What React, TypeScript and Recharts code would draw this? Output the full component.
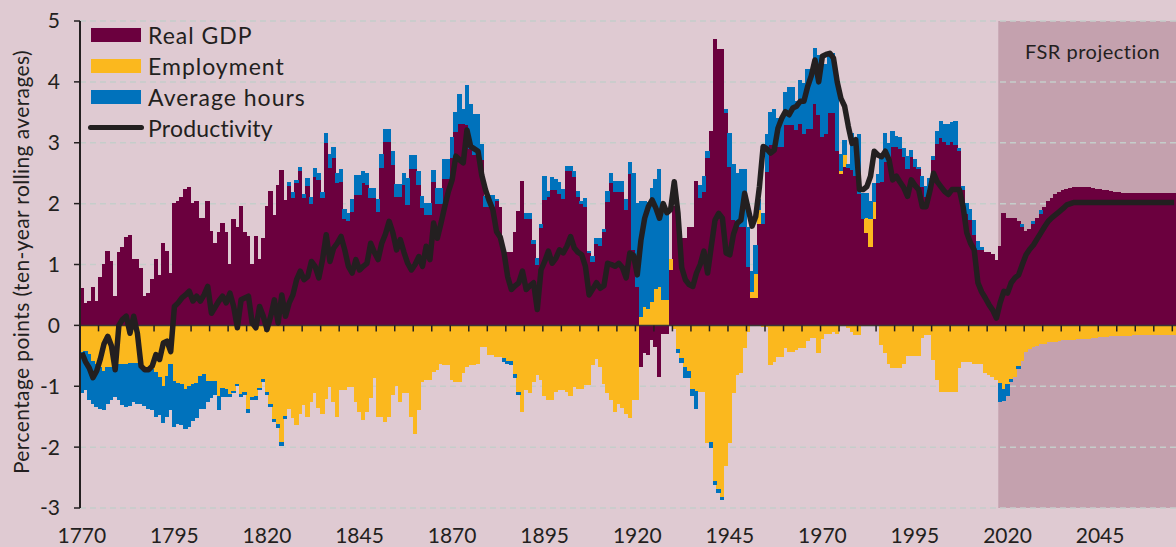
import {
  ComposedChart,
  Bar,
  Line,
  XAxis,
  YAxis,
  CartesianGrid,
  ReferenceArea,
  ReferenceLine,
} from "recharts";

const FONT = "Lato, 'Open Sans', sans-serif";
const INK = "#231f20";
const GDP_COLOR = "#6b003e";
const EMP_COLOR = "#fbb81e";
const HRS_COLOR = "#0072bc";
const BG = "#dfcad2";
const PROJ_BG = "#c4a1ae";

const FIRST_YEAR = 1770;
const PROJECTION_START = 2018;
const LABEL_EVERY = 25;

// real GDP contribution, 1770..2065
const gdp = [
  0.60, 0.36, 0.39, 0.63, 0.39, 0.79, 1.00, 1.22, 1.05, 0.47,
  1.19, 1.28, 1.45, 1.47, 1.09, 1.09, 0.94, 0.47, 0.53, 0.75,
  1.08, 0.82, 1.34, 1.22, 0.86, 2.00, 2.04, 2.10, 2.24, 2.27,
  2.00, 2.04, 1.76, 1.76, 2.04, 1.54, 1.35, 1.52, 1.68, 1.52,
  1.00, 1.74, 1.60, 1.96, 1.52, 1.46, 1.00, 1.46, 1.08, 1.43,
  1.95, 2.20, 1.80, 2.30, 2.55, 2.05, 2.30, 2.10, 2.35, 2.55,
  2.10, 2.30, 2.00, 2.45, 2.40, 2.10, 3.00, 2.60, 2.75, 2.35,
  2.36, 1.75, 1.72, 1.87, 2.15, 2.15, 2.34, 2.31, 2.10, 2.10,
  1.87, 2.60, 3.02, 3.02, 2.64, 2.12, 2.12, 2.31, 1.98, 2.58,
  2.58, 2.31, 1.93, 1.82, 1.82, 2.36, 2.00, 2.00, 2.42, 2.42,
  2.75, 3.19, 3.32, 3.32, 3.30, 2.90, 2.80, 2.80, 2.72, 1.95,
  1.95, 1.95, 2.05, 1.93, 1.19, 1.19, 1.19, 1.52, 1.87, 2.36,
  1.76, 1.76, 1.35, 1.00, 1.60, 2.06, 2.12, 2.23, 2.23, 2.17,
  2.09, 2.55, 2.55, 2.44, 2.12, 2.01, 1.96, 1.20, 1.05, 1.35,
  1.32, 1.54, 2.04, 2.34, 2.20, 2.20, 2.20, 1.90, 2.50, 1.24,
  0.64, -0.67, -0.45, -0.48, -0.24, -0.35, -0.84, -0.13, -0.13, 0.91,
  1.95, 1.90, 1.43, 1.43, 1.60, 1.60, 2.36, 2.10, 2.20, 2.75,
  3.19, 4.69, 4.53, 4.53, 3.49, 2.61, 1.74, 1.63, 1.63, 1.63,
  0.97, 0.45, 0.45, 1.68, 1.68, 2.53, 2.97, 2.97, 2.94, 2.94,
  3.30, 3.30, 3.30, 3.21, 3.32, 3.16, 3.24, 3.24, 3.65, 3.46,
  3.10, 3.16, 3.49, 3.49, 2.88, 2.50, 2.61, 2.60, 2.56, 2.47,
  2.17, 1.76, 1.52, 1.30, 1.76, 2.34, 2.36, 2.70, 2.72, 2.94,
  2.94, 2.91, 2.77, 2.58, 2.77, 2.61, 2.58, 2.28, 2.12, 2.17,
  2.72, 2.99, 3.08, 3.02, 2.97, 3.02, 2.97, 2.88, 2.23, 1.84,
  1.74, 1.50, 1.24, 1.24, 1.20, 1.20, 1.16, 1.07, 1.30, 1.84,
  1.76, 1.75, 1.76, 1.71, 1.63, 1.54, 1.57, 1.68, 1.76, 1.84,
  1.93, 2.04, 2.09, 2.15, 2.18, 2.22, 2.24, 2.25, 2.27, 2.27,
  2.26, 2.27, 2.26, 2.25, 2.24, 2.23, 2.22, 2.21, 2.20, 2.19,
  2.18, 2.17, 2.17, 2.17, 2.17, 2.17, 2.17, 2.17, 2.17, 2.17,
  2.17, 2.17, 2.17, 2.17, 2.17, 2.17,
];

// employment contribution
const emp = [
  -0.45, -0.43, -0.48, -0.59, -0.64, -0.70, -0.76, -0.70, -0.70, -0.67,
  -0.64, -0.64, -0.64, -0.62, -0.62, -0.62, -0.70, -0.73, -0.73, -0.73,
  -0.78, -0.86, -1.00, -0.84, -0.64, -0.92, -0.95, -0.97, -1.06, -1.00,
  -0.97, -0.95, -0.84, -0.81, -0.92, -0.92, -0.92, -1.17, -1.03, -1.06,
  -1.14, -1.08, -0.97, -1.14, -1.11, -1.39, -1.19, -1.17, -1.03, -0.89,
  -1.11, -1.30, -1.55, -1.63, -1.93, -1.50, -1.36, -1.52, -1.63, -1.45,
  -1.30, -1.50, -1.25, -1.10, -1.35, -1.45, -1.20, -1.00, -1.25, -1.50,
  -1.06, -1.06, -1.00, -1.00, -1.25, -1.41, -1.55, -1.41, -1.19, -0.86,
  -1.50, -1.50, -1.58, -1.50, -1.14, -0.98, -1.25, -1.11, -1.11, -1.50,
  -1.77, -1.38, -0.92, -0.89, -0.89, -0.76, -0.73, -0.62, -0.64, -0.64,
  -0.89, -0.92, -0.92, -0.78, -0.67, -0.64, -0.64, -0.62, -0.34, -0.34,
  -0.48, -0.48, -0.51, -0.51, -0.54, -0.59, -0.59, -0.81, -1.11, -1.41,
  -1.06, -1.11, -0.92, -0.81, -0.89, -1.16, -1.22, -1.22, -1.08, -1.06,
  -1.06, -1.08, -1.16, -1.00, -1.03, -1.03, -0.97, -0.97, -0.65, -0.54,
  -0.67, -0.95, -1.10, -1.22, -1.41, -1.28, -1.35, -1.44, -1.52, -1.22,
  -1.22, 0.15, 0.31, 0.28, 0.39, 0.60, 0.64, 0.42, 0.42, 0.17,
  -0.05, -0.40, -0.55, -0.70, -0.75, -1.05, -1.08, -1.08, -1.08, -1.93,
  -1.93, -2.57, -2.70, -2.83, -2.30, -1.93, -1.11, -0.81, -0.78, -0.37,
  -0.10, 0.11, 0.41, 0.22, -0.02, -0.02, -0.65, -0.60, -0.51, -0.51,
  -0.37, -0.43, -0.43, -0.40, -0.37, -0.37, -0.25, -0.20, -0.20, -0.45,
  -0.21, -0.13, -0.13, -0.10, -0.13, 0.05, 0.20, -0.04, -0.10, -0.15,
  -0.15, 0.00, 0.25, 0.46, 0.27, 0.00, -0.32, -0.45, -0.62, -0.70,
  -0.70, -0.70, -0.62, -0.50, -0.50, -0.50, -0.50, -0.20, -0.15, -0.15,
  -0.56, -0.89, -1.08, -1.08, -1.08, -1.08, -1.08, -0.70, -0.60, -0.60,
  -0.60, -0.62, -0.62, -0.62, -0.78, -0.80, -0.84, -0.89, -0.95, -1.05,
  -0.97, -0.89, -0.84, -0.68, -0.57, -0.43, -0.38, -0.35, -0.33, -0.30,
  -0.29, -0.26, -0.26, -0.26, -0.25, -0.24, -0.24, -0.23, -0.23, -0.22,
  -0.21, -0.21, -0.21, -0.20, -0.20, -0.19, -0.18, -0.18, -0.17, -0.17,
  -0.16, -0.16, -0.16, -0.16, -0.15, -0.15, -0.15, -0.15, -0.15, -0.15,
  -0.15, -0.15, -0.15, -0.15, -0.15, -0.15,
];

// average hours contribution
const hrs = [
  -0.66, -0.63, -0.74, -0.69, -0.69, -0.66, -0.63, -0.58, -0.52, -0.50,
  -0.58, -0.66, -0.69, -0.69, -0.63, -0.66, -0.58, -0.58, -0.63, -0.66,
  -0.71, -0.60, -0.60, -0.66, -0.75, -0.74, -0.66, -0.66, -0.63, -0.66,
  -0.60, -0.57, -0.52, -0.55, -0.33, -0.27, -0.22, -0.22, -0.14, -0.11,
  -0.03, -0.03, -0.02, -0.03, -0.03, -0.04, -0.03, -0.04, -0.03, -0.03,
  -0.03, -0.03, -0.03, -0.04, -0.04, -0.03, 0.05, 0.08, 0.03, 0.05,
  0.05, 0.12, 0.10, 0.12, 0.10, 0.08, 0.15, 0.20, 0.18, 0.15,
  0.20, 0.15, 0.12, 0.19, 0.32, 0.32, 0.19, 0.19, 0.15, 0.15,
  0.19, 0.20, 0.20, 0.20, 0.22, 0.19, 0.19, 0.19, 0.44, 0.21,
  0.21, 0.22, 0.19, 0.19, 0.19, 0.19, 0.25, 0.25, 0.30, 0.30,
  0.33, 0.30, 0.47, 0.23, 0.64, 0.73, 0.66, 0.66, 0.25, 0.17,
  0.19, 0.19, 0.01, 0.00, -0.05, -0.03, -0.05, -0.05, -0.03, 0.00,
  0.08, 0.08, 0.05, 0.10, 0.05, 0.38, 0.08, 0.20, 0.16, 0.17,
  0.14, 0.06, 0.06, 0.09, 0.08, 0.03, 0.13, 0.02, 0.08, 0.08,
  0.11, 0.03, 0.16, 0.16, 0.16, 0.16, 0.16, 0.16, 0.17, 1.26,
  1.36, 1.89, 1.73, 1.74, 1.86, 1.80, 1.92, 1.42, 1.50, 0.00,
  0.00, -0.05, -0.06, -0.15, -0.10, -0.10, -0.28, 0.20, 0.25, 0.10,
  -0.08, -0.05, -0.05, -0.03, 0.05, 0.55, 0.90, 0.87, 0.93, 0.93,
  0.63, 0.33, 0.46, 0.16, 0.16, 0.60, 0.52, 0.57, 0.46, 0.46,
  0.52, 0.60, 0.60, 0.47, 0.71, 0.82, 0.96, 0.96, 0.90, 0.98,
  1.20, 1.12, 0.98, 0.98, 1.18, 0.25, 0.22, 0.05, 0.60, 0.60,
  0.96, 0.41, 0.40, 0.28, 0.30, 0.14, 0.44, 0.46, 0.27, 0.25,
  0.16, 0.17, 0.14, 0.20, 0.11, 0.11, 0.02, 0.17, 0.16, 0.25,
  0.06, 0.20, 0.27, 0.28, 0.33, 0.31, 0.38, 0.02, 0.05, 0.16,
  0.16, 0.23, 0.14, 0.04, 0.00, 0.00, 0.00, 0.00, -0.30, -0.19,
  -0.19, -0.03, 0.00, -0.03, 0.03, 0.00, 0.00, 0.03, 0.00, 0.05,
  0, 0, 0, 0, 0, 0, 0, 0, 0, 0,
  0, 0, 0, 0, 0, 0, 0, 0, 0, 0,
  0, 0, 0, 0, 0, 0, 0, 0, 0, 0,
  0, 0, 0, 0, 0, 0,
];

// productivity, ten-year rolling average
const prod = [
  -0.45, -0.60, -0.70, -0.86, -0.75, -0.55, -0.30, -0.18, -0.34, -0.73,
  0.00, 0.10, 0.15, -0.13, 0.15, -0.13, -0.67, -0.73, -0.73, -0.67,
  -0.48, -0.56, -0.29, -0.26, -0.43, 0.31, 0.37, 0.45, 0.50, 0.56,
  0.40, 0.48, 0.40, 0.50, 0.64, 0.20, 0.30, 0.40, 0.48, 0.37,
  0.53, 0.31, -0.04, 0.42, 0.45, 0.48, 0.04, -0.04, 0.31, 0.15,
  -0.07, 0.15, 0.42, 0.04, 0.50, 0.15, 0.37, 0.50, 0.75, 0.89,
  0.75, 0.80, 1.05, 0.97, 0.78, 1.08, 1.49, 1.05, 1.27, 1.35,
  1.46, 1.24, 0.97, 0.86, 1.08, 0.91, 0.97, 1.02, 1.35, 1.20,
  1.08, 1.35, 1.50, 1.71, 1.52, 1.24, 1.41, 1.20, 1.02, 0.91,
  1.00, 1.13, 0.97, 1.30, 1.08, 1.68, 1.43, 1.68, 1.95, 2.20,
  2.39, 2.78, 2.72, 2.67, 3.21, 2.94, 2.90, 2.86, 2.47, 2.23,
  2.05, 1.90, 1.54, 1.45, 1.20, 0.80, 0.59, 0.65, 0.70, 0.89,
  0.59, 0.65, 0.70, 0.26, 0.91, 1.05, 1.22, 1.02, 1.10, 1.24,
  1.19, 1.30, 1.46, 1.27, 1.20, 1.16, 0.97, 0.50, 0.60, 0.70,
  0.61, 0.65, 1.02, 1.00, 0.97, 1.02, 0.95, 0.78, 1.19, 1.15,
  0.83, 1.40, 1.76, 1.95, 2.06, 1.93, 1.76, 2.00, 1.85, 1.90,
  2.36, 1.84, 0.95, 0.75, 0.67, 0.64, 0.86, 1.00, 1.22, 0.86,
  1.30, 1.73, 1.84, 1.76, 1.19, 1.16, 1.50, 1.68, 1.73, 2.17,
  1.90, 1.63, 1.79, 2.28, 2.94, 2.90, 2.83, 2.88, 3.24, 3.40,
  3.51, 3.46, 3.57, 3.60, 3.68, 3.68, 3.92, 4.10, 4.36, 4.00,
  4.42, 4.45, 4.47, 4.39, 4.00, 3.73, 3.60, 3.27, 2.99, 3.05,
  2.23, 2.23, 2.28, 2.45, 2.86, 2.80, 2.77, 2.86, 2.72, 2.39,
  2.45, 2.35, 2.26, 2.12, 2.39, 2.30, 2.23, 1.95, 1.95, 2.20,
  2.50, 2.36, 2.28, 2.20, 2.15, 2.23, 2.23, 2.23, 1.95, 1.52,
  1.35, 1.24, 0.70, 0.55, 0.45, 0.34, 0.25, 0.12, 0.37, 0.56,
  0.53, 0.70, 0.78, 0.83, 1.00, 1.16, 1.25, 1.32, 1.42, 1.52,
  1.62, 1.71, 1.77, 1.82, 1.87, 1.92, 1.98, 2.00, 2.02, 2.02,
  2.02, 2.02, 2.02, 2.02, 2.02, 2.02, 2.02, 2.02, 2.02, 2.02,
  2.02, 2.02, 2.02, 2.02, 2.02, 2.02, 2.02, 2.02, 2.02, 2.02,
  2.02, 2.02, 2.02, 2.02, 2.02, 2.02,
];

const yTicks = [-3, -2, -1, 0, 1, 2, 3, 4, 5];

const years = gdp.map((_, i) => FIRST_YEAR + i);
const data = years.map((year, i) => ({
  year,
  gdp: gdp[i],
  emp: emp[i],
  hrs: hrs[i],
  prod: prod[i],
}));

const W = 1176;
const H = 547;
const TOP = 21;
const X_AXIS_H = 39;
const Y_AXIS_W = 80;
const PLOT_H = H - TOP - X_AXIS_H;
const ZERO_Y = TOP + (PLOT_H * 5) / 8;
const HALF_BAND = (W - Y_AXIS_W) / years.length / 2;

function YearTick(props: any) {
  const { x, y, payload } = props;
  const yr = Number(payload.value);
  return (
    <g>
      <line
        x1={x - HALF_BAND}
        x2={x - HALF_BAND}
        y1={ZERO_Y}
        y2={ZERO_Y + 6}
        stroke={INK}
        strokeWidth={1.5}
      />
      {(yr - FIRST_YEAR) % LABEL_EVERY === 0 && (
        <text
          x={x}
          y={y + 27}
          textAnchor="middle"
          fontSize={21}
          fontFamily={FONT}
          fill={INK}
        >
          {yr}
        </text>
      )}
    </g>
  );
}

function LegendBox() {
  const rows = [
    { label: "Real GDP", color: GDP_COLOR },
    { label: "Employment", color: EMP_COLOR },
    { label: "Average hours", color: HRS_COLOR },
  ];
  return (
    <div
      style={{
        position: "absolute",
        left: 88,
        top: 19,
        fontFamily: FONT,
        fontSize: 23,
        letterSpacing: 1,
        color: INK,
      }}
    >
      {rows.map((r) => (
        <div key={r.label} style={{ display: "flex", alignItems: "center", height: 31 }}>
          <div style={{ width: 50, height: 14, marginLeft: 3, marginRight: 7, background: r.color }} />
          <span>{r.label}</span>
        </div>
      ))}
      <div style={{ display: "flex", alignItems: "center", height: 31 }}>
        <div style={{ width: 56, height: 5, borderRadius: 3, marginRight: 4, background: INK }} />
        <span style={{ letterSpacing: 0.2 }}>Productivity</span>
      </div>
    </div>
  );
}

export default function App() {
  return (
    <div style={{ position: "absolute", left: 0, top: 0, width: W, height: H, background: BG, overflow: "hidden" }}>
      {/* bars are ~3.7px wide, crisp edges avoid hairline seams between them */}
      <style>{".recharts-bar-rectangle path { shape-rendering: crispEdges; }"}</style>
      <ComposedChart
        width={W}
        height={H}
        data={data}
        stackOffset="sign"
        barCategoryGap={0}
        barGap={0}
        margin={{ top: TOP, right: 0, bottom: 0, left: 0 }}
      >
        <ReferenceArea
          x1={PROJECTION_START}
          x2={years[years.length - 1]}
          y1={-3}
          y2={5}
          fill={PROJ_BG}
          fillOpacity={1}
          stroke="none"
          ifOverflow="extendDomain"
        />
        <CartesianGrid vertical={false} stroke="#c5cdca" strokeDasharray="6 4" strokeWidth={1.5} zIndex={150} />
        <XAxis
          dataKey="year"
          interval={4}
          tick={<YearTick />}
          tickLine={false}
          axisLine={false}
          height={X_AXIS_H}
        />
        <YAxis
          type="number"
          domain={[-3, 5]}
          ticks={yTicks}
          width={Y_AXIS_W}
          allowDataOverflow
          axisLine={{ stroke: INK, strokeWidth: 2 }}
          tickLine={{ stroke: INK, strokeWidth: 1.5 }}
          tickSize={6}
          tickMargin={14}
          tick={{ fontSize: 21, fill: INK, fontFamily: FONT }}
        />
        <Bar dataKey="gdp" stackId="a" fill={GDP_COLOR} stroke={GDP_COLOR} strokeWidth={1} barSize={4} isAnimationActive={false} />
        <Bar dataKey="emp" stackId="a" fill={EMP_COLOR} stroke={EMP_COLOR} strokeWidth={1} barSize={4} isAnimationActive={false} />
        <Bar dataKey="hrs" stackId="a" fill={HRS_COLOR} stroke={HRS_COLOR} strokeWidth={1} barSize={4} isAnimationActive={false} />
        <ReferenceLine y={0} stroke="#3a3535" strokeWidth={1.5} />
        <Line
          dataKey="prod"
          type="linear"
          stroke={INK}
          strokeWidth={5.5}
          strokeLinejoin="round"
          dot={false}
          activeDot={false}
          isAnimationActive={false}
        />
      </ComposedChart>
      <LegendBox />
      <div
        style={{
          position: "absolute",
          left: 20,
          top: 262,
          transform: "translate(-50%, -50%) rotate(-90deg)",
          whiteSpace: "nowrap",
          fontFamily: FONT,
          fontSize: 21,
          letterSpacing: 0.4,
          color: INK,
        }}
      >
        Percentage points (ten-year rolling averages)
      </div>
      <div
        style={{
          position: "absolute",
          left: 1025,
          top: 39,
          fontFamily: FONT,
          fontSize: 20,
          letterSpacing: 0.5,
          color: INK,
        }}
      >
        FSR projection
      </div>
    </div>
  );
}
